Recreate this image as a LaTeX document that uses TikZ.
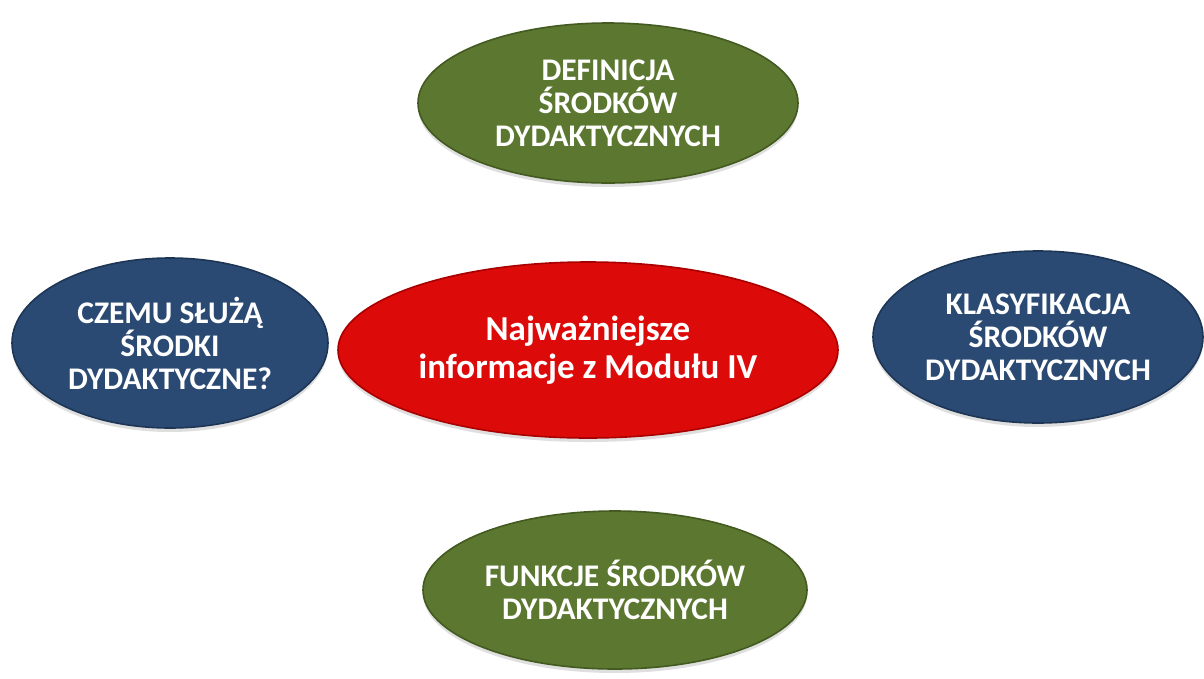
\documentclass[tikz,border=0pt]{standalone}
\usepackage{fontspec}
\setmainfont{Carlito}
\usetikzlibrary{shapes.geometric,shadows}
\definecolor{olive}{HTML}{5B7730}
\definecolor{olivedark}{HTML}{435A20}
\definecolor{navy}{HTML}{2B4A73}
\definecolor{navydark}{HTML}{1E3656}
\definecolor{redmain}{HTML}{DD0A0A}
\definecolor{reddark}{HTML}{A80000}
\tikzset{
  bubble/.style={ellipse, inner sep=0pt, align=center, text=white,
    font=\fontsize{31.5}{33}\selectfont\bfseries, line width=1.6pt,
    drop shadow={opacity=0.25, shadow xshift=0pt, shadow yshift=-4pt}},
  greenbubble/.style={bubble, fill=olive, draw=olivedark},
  bluebubble/.style={bubble, fill=navy, draw=navydark},
  redbubble/.style={bubble, fill=redmain, draw=reddark,
    font=\fontsize{35}{38}\selectfont\bfseries}
}
\begin{document}
\begin{tikzpicture}[x=1pt,y=-1pt]
\useasboundingbox[fill=white] (0,0) rectangle (1204,678);
\node[greenbubble, minimum width=380pt, minimum height=160pt] (def) at (608,103)
  {DEFINICJA\\ŚRODKÓW\\DYDAKTYCZNYCH};
\node[bluebubble, minimum width=316pt, minimum height=170pt] (czemu) at (170,343)
  {CZEMU SŁUŻĄ\\ŚRODKI\\DYDAKTYCZNE?};
\node[redbubble, minimum width=500pt, minimum height=176pt] (main) at (588,350)
  {Najważniejsze\\informacje z Modułu IV};
\node[bluebubble, minimum width=330pt, minimum height=172pt] (klas) at (1038,337)
  {KLASYFIKACJA\\ŚRODKÓW\\DYDAKTYCZNYCH};
\node[greenbubble, minimum width=384pt, minimum height=158pt] (funk) at (615,590)
  {FUNKCJE ŚRODKÓW\\DYDAKTYCZNYCH};
\end{tikzpicture}
\end{document}
